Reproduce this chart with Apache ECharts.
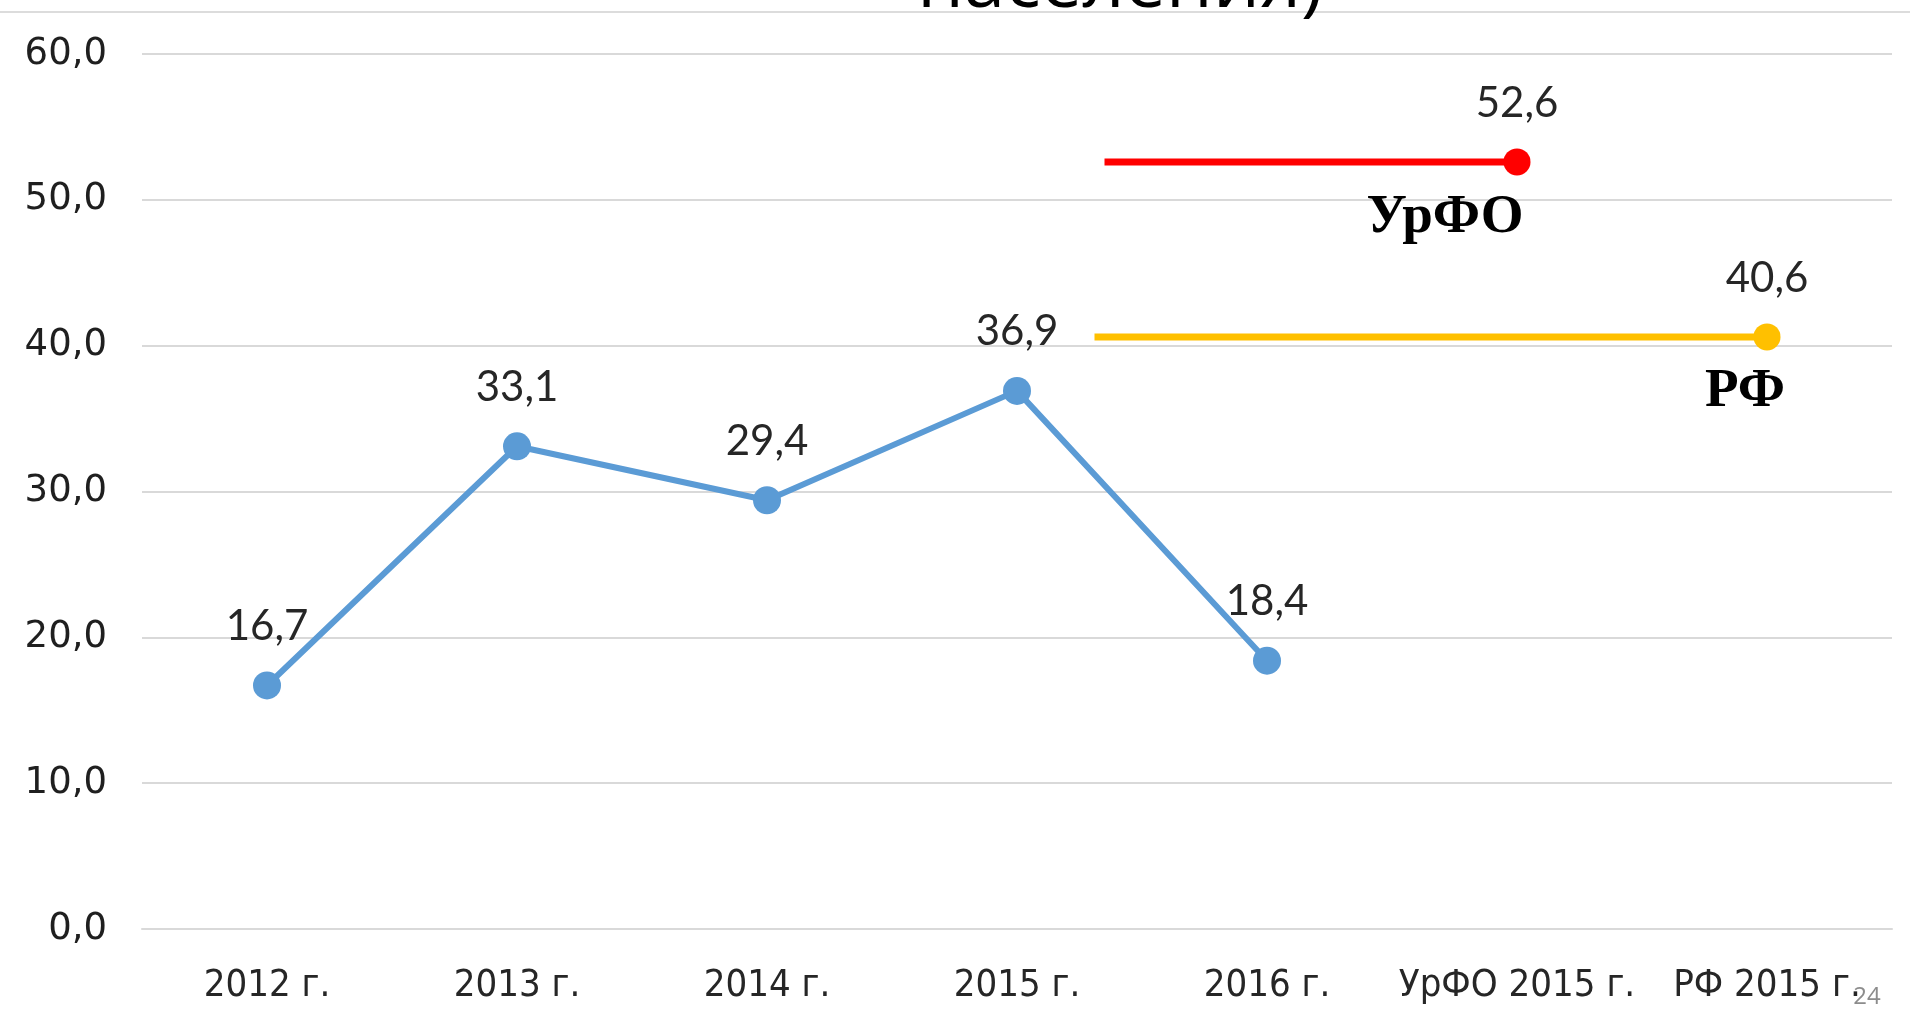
<!DOCTYPE html>
<html>
<head>
<meta charset="utf-8">
<script src="https://cdn.jsdelivr.net/npm/echarts@6/dist/echarts.min.js"></script>
<style>
  html, body { margin: 0; padding: 0; background: #fff; }
  #chart { width: 1910px; height: 1025px; }
</style>
</head>
<body>
<div id="chart"></div>
<script>
// categories on the x axis
const years = ['2012 г.', '2013 г.', '2014 г.', '2015 г.', '2016 г.', 'УрФО 2015 г.', 'РФ 2015 г.'];
// city values, years 2012-2016
const cityValues = [16.7, 33.1, 29.4, 36.9, 18.4, '-', '-'];
// reference levels (2015)
const urfoValue = 52.6;
const rfValue = 40.6;
// where the reference lines start / end, in category units
const urfoSpan = [3.35, 5];
const rfSpan = [3.31, 6];
const yTicks = [0, 10, 20, 30, 40, 50, 60];

const fmt = v => v.toFixed(1).replace('.', ',');

const chart = echarts.init(document.getElementById('chart'));

const labelStyle = {
  show: true,
  position: 'top',
  distance: 24,
  fontFamily: 'Lato, sans-serif',
  fontSize: 42,
  lineHeight: 42,
  color: '#262626',
  formatter: p => fmt(Array.isArray(p.value) ? p.value[1] : p.value)
};

function refLine(name, span, value, color, tag, tagOffset) {
  return {
    name: name,
    type: 'line',
    xAxisIndex: 1,
    silent: true,
    lineStyle: { color: color, width: 7 },
    itemStyle: { color: color },
    symbolSize: 27,
    data: [
      { value: [span[0], value], symbol: 'none', label: { show: false } },
      { value: [span[1], value], symbol: 'circle' }
    ],
    label: labelStyle,
    markPoint: {
      symbol: 'circle',
      symbolSize: 1,
      itemStyle: { color: 'transparent' },
      label: {
        show: true,
        position: 'inside',
        offset: tagOffset,
        formatter: tag,
        fontFamily: '"Liberation Serif", "Times New Roman", serif',
        fontWeight: 'bold',
        fontSize: 55,
        color: '#000'
      },
      data: [{ coord: [span[1], value] }]
    },
    z: 3
  };
}

chart.setOption({
  animation: false,
  grid: { left: 142, right: 18, top: 54, bottom: 96 },
  xAxis: [{
    type: 'category',
    data: years,
    boundaryGap: true,
    axisLine: { show: true, lineStyle: { color: '#d9d9d9', width: 2 } },
    axisTick: { show: false },
    axisLabel: {
      margin: 38,
      fontFamily: '"Liberation Sans Narrow", "DejaVu Sans Condensed", Lato, sans-serif',
      fontSize: 38,
      color: '#262626',
      interval: 0
    }
  }, {
    type: 'value',
    min: -0.5,
    max: 6.5,
    show: false
  }],
  yAxis: {
    type: 'value',
    min: yTicks[0],
    max: yTicks[yTicks.length - 1],
    interval: 10,
    axisLine: { show: false },
    axisTick: { show: false },
    splitLine: { lineStyle: { color: '#d9d9d9', width: 2 } },
    axisLabel: {
      margin: 35,
      fontFamily: '"DejaVu Sans", sans-serif',
      fontSize: 37,
      color: '#1f1f1f',
      formatter: v => fmt(v)
    }
  },
  series: [
    {
      name: 'city',
      type: 'line',
      data: cityValues,
      symbol: 'circle',
      symbolSize: 28,
      lineStyle: { color: '#5b9bd5', width: 6 },
      itemStyle: { color: '#5b9bd5' },
      label: labelStyle,
      z: 4
    },
    refLine('УрФО', urfoSpan, urfoValue, '#ff0000', 'УрФО', [-72, 56]),
    refLine('РФ', rfSpan, rfValue, '#ffc000', 'РФ', [-22, 55])
  ],
  graphic: [
    {
      type: 'line',
      shape: { x1: 0, y1: 12, x2: 1910, y2: 12 },
      style: { stroke: '#dcdcdc', lineWidth: 2 }
    },
    {
      type: 'text',
      x: 1120,
      y: -14,
      style: {
        text: 'населения)',
        fontFamily: '"Open Sans", sans-serif',
        fontSize: 74,
        fill: '#000',
        align: 'center',
        verticalAlign: 'middle'
      },
      z: 10
    },
    {
      type: 'text',
      x: 1867,
      y: 997,
      style: {
        text: '24',
        fontFamily: '"Open Sans", sans-serif',
        fontSize: 24,
        fill: '#8c8c8c',
        align: 'center',
        verticalAlign: 'middle'
      },
      z: 10
    }
  ]
});
</script>
</body>
</html>
